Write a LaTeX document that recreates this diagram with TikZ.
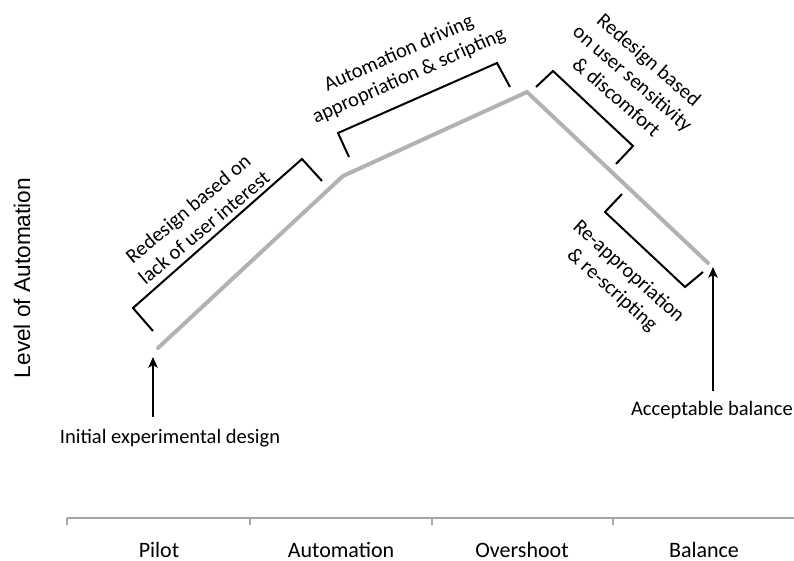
\documentclass[tikz,border=0pt]{standalone}
\usepackage{fontspec}
\setmainfont{Carlito}
\newfontfamily\axisfont{Liberation Sans}
\usetikzlibrary{arrows.meta}

\begin{document}
\begin{tikzpicture}[x=0.75pt, y=-0.75pt,
    trend/.style={draw=black!30, line width=3pt, line cap=round},
    bracket/.style={draw=black, line width=1.5pt},
    pointer/.style={draw=black, line width=1.6pt, -{Stealth[length=8pt,width=7pt,inset=2pt]}},
    note/.style={font=\fontsize{15.4}{18.5}\selectfont, align=center, inner sep=0pt},
    phase/.style={font=\fontsize{15.4}{18}\selectfont, inner sep=0pt},
    stage/.style={font=\fontsize{16.5}{19}\selectfont, inner sep=0pt, anchor=base}]
  \useasboundingbox (0,0) rectangle (794,561);

  % level of automation curve
  \coordinate (pilot) at (158,348);
  \coordinate (auto) at (343,176);
  \coordinate (peak) at (527,92);
  \coordinate (balance) at (708,263);
  \draw[trend] (pilot) -- (auto) -- (peak) -- (balance);

  % brackets
  \draw[bracket] (153,331) -- (133,308) -- (302,159) -- (322,181);
  \draw[bracket] (349,157) -- (338,133) -- (497,63) -- (510,87);
  \draw[bracket] (536,87) -- (553,71) -- (633,146) -- (616,164);
  \draw[bracket] (622,194) -- (605,212) -- (685,287) -- (703,272);

  \node[note, rotate=40] (redesign1) at (196,218) {Redesign based on\\lack of user interest};
  \node[note, rotate=24] (driving) at (404,65) {Automation driving\\appropriation \& scripting};
  \node[note, rotate=-41] (redesign2) at (633,78) {Redesign based\\on user sensitivity\\\& discomfort};
  \node[note, rotate=-42] (reapp) at (620,281) {Re-appropriation\\\& re-scripting};

  % start and end markers
  \node[phase] (initial) at (170,438) {Initial experimental design};
  \node[phase] (accept) at (712,410) {Acceptable balance};
  \coordinate (initfoot) at (153,417);
  \coordinate (inittip) at (153,357);
  \coordinate (accfoot) at (713,391);
  \coordinate (acctip) at (713,267);
  \draw[pointer] (initfoot) -- (inittip);
  \draw[pointer] (accfoot) -- (acctip);

  % axes
  \node[font=\axisfont\fontsize{17}{20}\selectfont, rotate=90, inner sep=0pt] (level) at (22,278) {Level of Automation};
  \draw[draw=black!35, line width=1pt] (67,518) -- (795,518);
  \foreach \t in {67,250,432,613,795}
    \draw[draw=black!35, line width=1pt] (\t,518) -- (\t,525);
  \node[stage] (p1) at (159,557) {Pilot};
  \node[stage] (p2) at (341,557) {Automation};
  \node[stage] (p3) at (522,557) {Overshoot};
  \node[stage] (p4) at (704,557) {Balance};
\end{tikzpicture}
\end{document}
